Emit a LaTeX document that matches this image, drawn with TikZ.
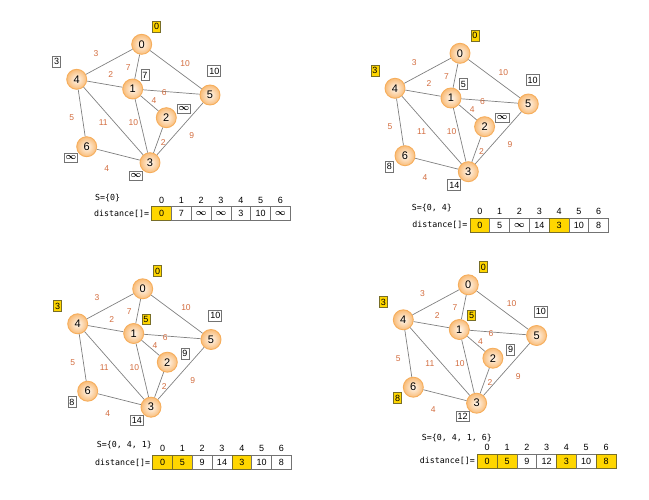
\documentclass[tikz,border=0pt]{standalone}
\usepackage{fontspec}
\setsansfont{Liberation Sans}
\setmonofont{DejaVu Sans Mono}
\usetikzlibrary{positioning}

\definecolor{vtxedge}{RGB}{246,174,92}
\definecolor{vtxfill}{RGB}{249,188,120}
\definecolor{wtcol}{RGB}{210,108,62}
\definecolor{hiyellow}{RGB}{255,214,0}
\definecolor{hiedge}{RGB}{120,110,40}

\newcommand{\inff}{{\boldmath$\infty$}}

\tikzset{
  vtx/.style={circle,minimum size=20pt,inner sep=0pt,draw=vtxedge,line width=0.9pt,
    inner color=orange!6,outer color=vtxfill,font=\sffamily\fontsize{11}{13}\selectfont},
  edge/.style={draw=gray,line width=0.7pt},
  wt/.style={text=wtcol,inner sep=0pt,font=\sffamily\fontsize{8.5}{10}\selectfont},
  lbl/.style={draw=gray!90!black,fill=white,line width=0.7pt,inner xsep=1.5pt,inner ysep=2.2pt,
    font=\sffamily\fontsize{9}{10}\selectfont},
  lblhi/.style={lbl,fill=hiyellow,draw=hiedge},
  cell/.style={draw=gray!90!black,fill=white,line width=0.7pt,minimum width=19.8pt,minimum height=14pt,
    inner sep=0pt,font=\sffamily\fontsize{9}{10}\selectfont},
  cellhi/.style={cell,fill=hiyellow,draw=hiedge},
  hdr/.style={inner sep=0pt,font=\sffamily\fontsize{9}{10}\selectfont},
  tlabel/.style={inner sep=0pt,font=\ttfamily\fontsize{8.3}{10}\selectfont}
}

\newcommand{\dgraph}[1]{%
  \foreach \v/\x/\y in {0/141.7/44.3,1/132.7/89,2/166.3/117.7,3/150/162.7,4/76.7/79.3,5/210/95,6/86.7/146.7}
    \node[vtx] (#1\v) at (\x,\y) {\v};
  \foreach \a/\b in {0/4,0/1,0/5,4/1,1/5,1/2,4/6,4/3,1/3,2/3,5/3,6/3}
    \draw[edge] (#1\a) -- (#1\b);
  \foreach \n/\t/\x/\y in {04/3/96/53.3,01/7/128.3/67.3,05/10/185/63.3,41/2/110.7/75,
      15/6/164.3/92.7,12/4/154/101,46/5/71.7/117.7,43/11/103.3/122.7,
      13/10/133.3/122.7,23/2/163.3/142.3,53/9/191.7/135.7,63/4/106.7/169}
    \node[wt] (#1w\n) at (\x,\y) {\t};
  \foreach \v/\x/\y in {0/156.7/26.7,1/145/75,2/184/109,3/136/176,4/56.7/61.7,5/214.3/71,6/71/157.7}
    \coordinate (#1p\v) at (\x,\y);
}

\begin{document}
\begin{tikzpicture}[x=1pt,y=-1pt]
\useasboundingbox (0,0) rectangle (649,500);

% step 1
\begin{scope}
\dgraph{a}
\foreach \v/\s/\t in {0/lblhi/0,1/lbl/7,2/lbl/\inff,3/lbl/\inff,4/lbl/3,5/lbl/10,6/lbl/\inff}
  \node[\s] (al\v) at (ap\v) {\t};
\end{scope}
\begin{scope}[shift={(151.7,206.7)}]
\foreach \i/\s/\t in {0/cellhi/0,1/cell/7,2/cell/\inff,3/cell/\inff,4/cell/3,5/cell/10,6/cell/\inff}{
  \node[\s] (tac\i) at (\i*19.8+9.9,7) {\t};
  \node[hdr,above=3pt of tac\i] (tah\i) {\i};
}
\node[tlabel,left=2pt of tac0] (tadist) {distance[]=};
\node[tlabel,anchor=west] (taset) at (-56.7,-8.4) {S=\{0\}};
\end{scope}

% step 2
\begin{scope}[shift={(318.3,9)}]
\dgraph{b}
\foreach \v/\s/\t in {0/lblhi/0,1/lbl/5,2/lbl/\inff,3/lbl/14,4/lblhi/3,5/lbl/10,6/lbl/8}
  \node[\s] (bl\v) at (bp\v) {\t};
\end{scope}
\begin{scope}[shift={(470,218.3)}]
\foreach \i/\s/\t in {0/cellhi/0,1/cell/5,2/cell/\inff,3/cell/14,4/cellhi/3,5/cell/10,6/cell/8}{
  \node[\s] (tbc\i) at (\i*19.8+9.9,7) {\t};
  \node[hdr,above=3pt of tbc\i] (tbh\i) {\i};
}
\node[tlabel,left=2pt of tbc0] (tbdist) {distance[]=};
\node[tlabel,anchor=west] (tbset) at (-58.3,-10) {S=\{0, 4\}};
\end{scope}

% step 3
\begin{scope}[shift={(1,244.5)}]
\dgraph{c}
\foreach \v/\s/\t in {0/lblhi/0,1/lblhi/5,2/lbl/9,3/lbl/14,4/lblhi/3,5/lbl/10,6/lbl/8}
  \node[\s] (cl\v) at (cp\v) {\t};
\end{scope}
\begin{scope}[shift={(152.7,455.5)}]
\foreach \i/\s/\t in {0/cellhi/0,1/cellhi/5,2/cell/9,3/cell/14,4/cellhi/3,5/cell/10,6/cell/8}{
  \node[\s] (tcc\i) at (\i*19.8+9.9,7) {\t};
  \node[hdr,above=3pt of tcc\i] (tch\i) {\i};
}
\node[tlabel,left=2pt of tcc0] (tcdist) {distance[]=};
\node[tlabel,anchor=west] (tcset) at (-56,-10.5) {S=\{0, 4, 1\}};
\end{scope}

% step 4
\begin{scope}[shift={(326.6,240.5)}]
\dgraph{d}
\foreach \v/\s/\t in {0/lblhi/0,1/lblhi/5,2/lbl/9,3/lbl/12,4/lblhi/3,5/lbl/10,6/lblhi/8}
  \node[\s] (dl\v) at (dp\v) {\t};
\end{scope}
\begin{scope}[shift={(477.3,454.3)}]
\foreach \i/\s/\t in {0/cellhi/0,1/cellhi/5,2/cell/9,3/cell/12,4/cellhi/3,5/cell/10,6/cellhi/8}{
  \node[\s] (tdc\i) at (\i*19.8+9.9,7) {\t};
  \node[hdr,above=3pt of tdc\i] (tdh\i) {\i};
}
\node[tlabel,left=2pt of tdc0] (tddist) {distance[]=};
\node[tlabel,anchor=west] (tdset) at (-55.6,-16) {S=\{0, 4, 1, 6\}};
\end{scope}
\end{tikzpicture}
\end{document}
